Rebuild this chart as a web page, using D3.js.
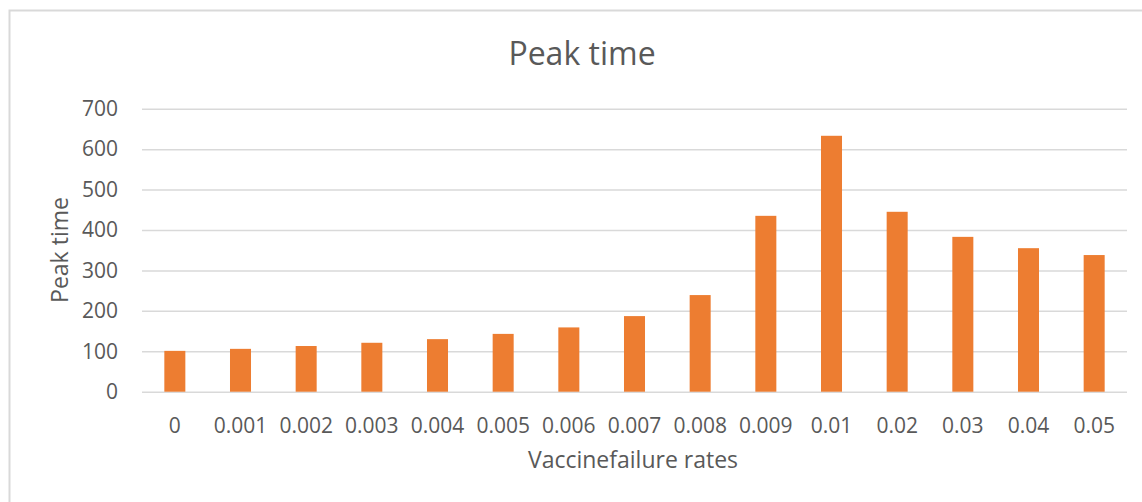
<!DOCTYPE html>
<html>
<head>
<meta charset="utf-8">
<script src="https://cdn.jsdelivr.net/npm/d3@7"></script>
<style>
  body { margin: 0; background: #fff; }
  svg { display: block; font-family: "Open Sans", sans-serif; }
</style>
</head>
<body>
<svg width="1142" height="502"></svg>
<script>
// data
var rates = ["0", "0.001", "0.002", "0.003", "0.004", "0.005", "0.006", "0.007",
             "0.008", "0.009", "0.01", "0.02", "0.03", "0.04", "0.05"];
var peakTimes = [101, 106, 113, 121, 130, 143, 159, 187, 239, 435, 633, 445, 383, 355, 338];
var yTicks = [0, 100, 200, 300, 400, 500, 600, 700];

var svg = d3.select("svg"),
    textColor = "#595959",
    gridColor = "#d9d9d9",
    plotLeft = 142, plotRight = 1127, plotTop = 108.7, plotBottom = 391.7;

// chart frame
svg.append("rect")
    .attr("x", 9.5)
    .attr("y", 10.5)
    .attr("width", 1160)
    .attr("height", 520)
    .style("fill", "none")
    .style("stroke", gridColor)
    .style("stroke-width", 2);

var x = d3.scaleBand()
    .domain(rates)
    .range([plotLeft, plotRight])
    .paddingInner(0.68)
    .paddingOuter(0.34);

var y = d3.scaleLinear()
    .domain([0, 700])
    .range([plotBottom, plotTop]);

// gridlines + y labels
var yAxis = d3.axisLeft(y)
    .tickValues(yTicks)
    .tickSize(-(plotRight - plotLeft))
    .tickPadding(24);

var gy = svg.append("g")
    .attr("transform", "translate(" + plotLeft + ",0)")
    .call(yAxis);

gy.select(".domain").remove();
gy.selectAll(".tick line")
    .style("stroke", gridColor)
    .style("stroke-width", 1.5);
gy.selectAll(".tick text")
    .style("fill", textColor)
    .style("font-size", "21px")
    .style("font-family", "Open Sans");

// bars
svg.append("g")
    .selectAll("rect")
    .data(peakTimes)
    .enter()
    .append("rect")
    .attr("x", function(d, i) { return x(rates[i]); })
    .attr("y", function(d) { return y(d); })
    .attr("width", x.bandwidth())
    .attr("height", function(d) { return y(0) - y(d); })
    .style("fill", "#ed7d31");

// x labels
var xAxis = d3.axisBottom(x)
    .tickSize(0)
    .tickPadding(26);

var gx = svg.append("g")
    .attr("transform", "translate(0," + plotBottom + ")")
    .call(xAxis);

gx.select(".domain").remove();
gx.selectAll(".tick text")
    .style("fill", textColor)
    .style("font-size", "21px")
    .style("font-family", "Open Sans");

// titles
svg.append("text")
    .text("Peak time")
    .attr("x", 582)
    .attr("y", 65)
    .style("text-anchor", "middle")
    .style("font-size", "32px")
    .style("fill", textColor);

svg.append("text")
    .text("Vaccinefailure rates")
    .attr("x", 633)
    .attr("y", 468)
    .style("text-anchor", "middle")
    .style("font-size", "23px")
    .style("fill", textColor);

svg.append("text")
    .text("Peak time")
    .attr("transform", "translate(68,250) rotate(-90)")
    .style("text-anchor", "middle")
    .style("font-size", "23px")
    .style("fill", textColor);
</script>
</body>
</html>
